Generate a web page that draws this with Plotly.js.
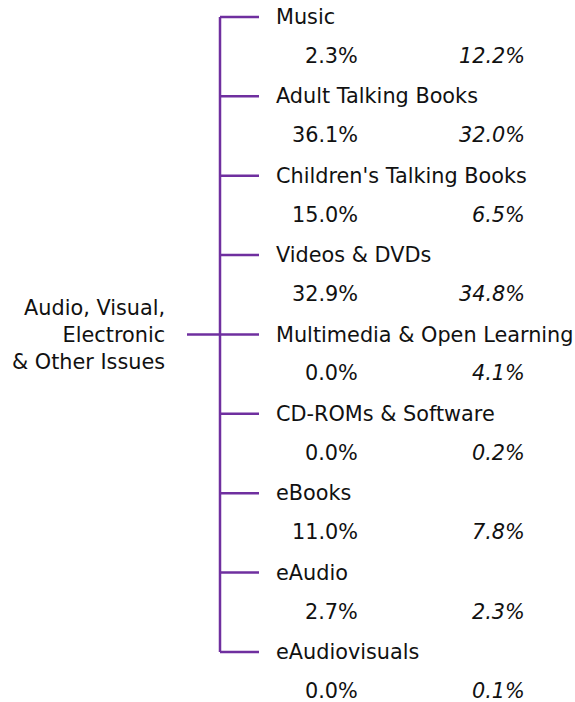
<!DOCTYPE html>
<html>
<head>
<meta charset="utf-8">
<script src="https://cdn.plot.ly/plotly-3.0.1.min.js"></script>
<style>html,body{margin:0;padding:0;background:#fff;}#chart{width:575px;height:702px;}</style>
</head>
<body>
<div id="chart"></div>
<script>
const rootLabel = "Audio, Visual,<br>Electronic<br>&amp; Other Issues";
const categories = ["Music", "Adult Talking Books", "Children's Talking Books", "Videos &amp; DVDs",
  "Multimedia &amp; Open Learning", "CD-ROMs &amp; Software", "eBooks", "eAudio", "eAudiovisuals"];
const shareA = [2.3, 36.1, 15.0, 32.9, 0.0, 0.0, 11.0, 2.7, 0.0];
const shareB = [12.2, 32.0, 6.5, 34.8, 4.1, 0.2, 7.8, 2.3, 0.1];

const n = categories.length;
const lineColor = "#6f2f9f";
const font = {family: "Verdana, 'DejaVu Sans', sans-serif", size: 20.8, color: "#111"};
const trunkX = 220, branchEnd = 259, rootStart = 187;
const mid = (n - 1) / 2;

const idx = categories.map((_, i) => i);
const bx = [], by = [];
idx.forEach(i => { bx.push(trunkX, branchEnd, null); by.push(i, i, null); });

const traces = [
  {x: [trunkX, trunkX], y: [0, n - 1], mode: "lines", line: {color: lineColor, width: 2.5}, hoverinfo: "skip"},
  {x: bx, y: by, mode: "lines", line: {color: lineColor, width: 2.5}, hoverinfo: "skip"},
  {x: [rootStart, trunkX], y: [mid, mid], mode: "lines", line: {color: lineColor, width: 2.5}, hoverinfo: "skip"}
];

const annotations = [];
annotations.push({x: 167, y: mid, text: rootLabel, xanchor: "right", yanchor: "middle", align: "right", showarrow: false, font: font});
idx.forEach(i => {
  annotations.push({x: 274, y: i, text: categories[i], xanchor: "left", yanchor: "middle", showarrow: false, font: font});
  annotations.push({x: 360, y: i + 0.49, text: shareA[i].toFixed(1) + "%", xanchor: "right", yanchor: "middle", showarrow: false, font: font});
  annotations.push({x: 527, y: i + 0.49, text: "<i>" + shareB[i].toFixed(1) + "%</i>", xanchor: "right", yanchor: "middle", showarrow: false, font: font});
});

const pxPerUnit = (652 - 17) / (n - 1);
const yTop = -17 / pxPerUnit, yBottom = (702 - 17) / pxPerUnit;

const layout = {
  width: 575, height: 702,
  margin: {l: 0, r: 0, t: 0, b: 0, pad: 0},
  paper_bgcolor: "#fff", plot_bgcolor: "#fff",
  showlegend: false,
  xaxis: {range: [0, 575], visible: false, fixedrange: true},
  yaxis: {range: [yBottom, yTop], visible: false, fixedrange: true},
  annotations: annotations
};
Plotly.newPlot("chart", traces, layout, {staticPlot: true, displayModeBar: false});
</script>
</body>
</html>
